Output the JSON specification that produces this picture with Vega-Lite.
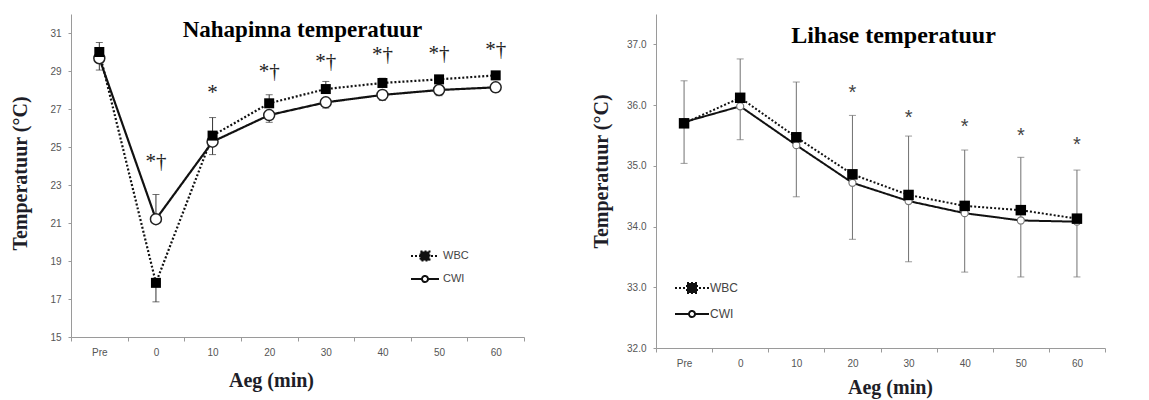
{
  "$schema": "https://vega.github.io/schema/vega-lite/v6.json",
  "background": "white",
  "padding": {"left": 10, "top": 14, "right": 5, "bottom": 5},
  "spacing": 66,
  "resolve": {"scale": {"strokeDash": "independent"}, "legend": {"strokeDash": "independent"}},
  "config": {
    "view": {"stroke": null},
    "axis": {
      "grid": false,
      "domainColor": "#9a9a9a",
      "tickColor": "#9a9a9a",
      "labelColor": "#555555",
      "labelFont": "Liberation Sans",
      "labelFontSize": 10,
      "titleFont": "Liberation Serif",
      "titleFontSize": 20,
      "titleFontWeight": "bold",
      "titleColor": "#1e1e28"
    },
    "legend": {
      "labelFont": "Liberation Sans",
      "labelFontSize": 11,
      "labelColor": "#444444"
    }
  },
  "datasets": {
    "skin": [
      {"time": "Pre", "series": "WBC", "temp": 30.0, "err": 30.5},
      {"time": "0", "series": "WBC", "temp": 17.85, "err": 16.85},
      {"time": "10", "series": "WBC", "temp": 25.6, "err": 26.55},
      {"time": "20", "series": "WBC", "temp": 27.3, "err": 27.75},
      {"time": "30", "series": "WBC", "temp": 28.05, "err": 28.45},
      {"time": "40", "series": "WBC", "temp": 28.37, "err": 28.62},
      {"time": "50", "series": "WBC", "temp": 28.56, "err": 28.75},
      {"time": "60", "series": "WBC", "temp": 28.77, "err": 28.97},
      {"time": "Pre", "series": "CWI", "temp": 29.67, "err": 29.05},
      {"time": "0", "series": "CWI", "temp": 21.2, "err": 22.5},
      {"time": "10", "series": "CWI", "temp": 25.28, "err": 24.6},
      {"time": "20", "series": "CWI", "temp": 26.68, "err": 26.3},
      {"time": "30", "series": "CWI", "temp": 27.35, "err": 27.05},
      {"time": "40", "series": "CWI", "temp": 27.74, "err": 27.45},
      {"time": "50", "series": "CWI", "temp": 28.0, "err": 27.7},
      {"time": "60", "series": "CWI", "temp": 28.14, "err": 27.9}
    ],
    "skinSig": [
      {"time": "0", "mark": "*†", "pos": 24.2},
      {"time": "10", "mark": "*", "pos": 27.84},
      {"time": "20", "mark": "*†", "pos": 28.95},
      {"time": "30", "mark": "*†", "pos": 29.47},
      {"time": "40", "mark": "*†", "pos": 29.82},
      {"time": "50", "mark": "*†", "pos": 29.9},
      {"time": "60", "mark": "*†", "pos": 30.1}
    ],
    "muscle": [
      {"time": "Pre", "series": "WBC", "temp": 35.7, "lo": 35.04, "hi": 36.4},
      {"time": "0", "series": "WBC", "temp": 36.12, "lo": 35.43, "hi": 36.76},
      {"time": "10", "series": "WBC", "temp": 35.47, "lo": 34.49, "hi": 36.38},
      {"time": "20", "series": "WBC", "temp": 34.86, "lo": 33.79, "hi": 35.83},
      {"time": "30", "series": "WBC", "temp": 34.52, "lo": 33.42, "hi": 35.49},
      {"time": "40", "series": "WBC", "temp": 34.34, "lo": 33.25, "hi": 35.26},
      {"time": "50", "series": "WBC", "temp": 34.27, "lo": 33.17, "hi": 35.14},
      {"time": "60", "series": "WBC", "temp": 34.13, "lo": 33.17, "hi": 34.93},
      {"time": "Pre", "series": "CWI", "temp": 35.72},
      {"time": "0", "series": "CWI", "temp": 35.98},
      {"time": "10", "series": "CWI", "temp": 35.34},
      {"time": "20", "series": "CWI", "temp": 34.72},
      {"time": "30", "series": "CWI", "temp": 34.42},
      {"time": "40", "series": "CWI", "temp": 34.22},
      {"time": "50", "series": "CWI", "temp": 34.1},
      {"time": "60", "series": "CWI", "temp": 34.08}
    ],
    "muscleSig": [
      {"time": "20", "mark": "*", "pos": 36.27},
      {"time": "30", "mark": "*", "pos": 35.86},
      {"time": "40", "mark": "*", "pos": 35.7},
      {"time": "50", "mark": "*", "pos": 35.56},
      {"time": "60", "mark": "*", "pos": 35.41}
    ]
  },
  "hconcat": [
    {
      "width": 453,
      "height": 323,
      "title": {
        "text": "Nahapinna temperatuur",
        "font": "Liberation Serif",
        "fontSize": 23,
        "fontWeight": "bold",
        "color": "#000000",
        "offset": -26,
        "baseline": "alphabetic",
        "dx": 5,
        "dy": 20
      },
      "data": {"name": "skin"},
      "encoding": {
        "x": {
          "field": "time",
          "type": "ordinal",
          "sort": ["Pre", "0", "10", "20", "30", "40", "50", "60"],
          "scale": {"type": "band", "paddingInner": 0, "paddingOuter": 0},
          "axis": {
            "title": "Aeg (min)",
            "labelAngle": 0,
            "tickBand": "extent",
            "tickSize": 4,
            "labelPadding": 6,
            "titleX": 200,
            "titleY": 43,
            "titleBaseline": "middle"
          }
        }
      },
      "layer": [
        {
          "mark": {"type": "rule", "color": "#333333", "strokeWidth": 1},
          "encoding": {
            "y": {"field": "temp", "type": "quantitative"},
            "y2": {"field": "err"}
          }
        },
        {
          "mark": {"type": "tick", "color": "#333333", "size": 7, "thickness": 1},
          "encoding": {
            "y": {"field": "err", "type": "quantitative"}
          }
        },
        {
          "mark": {"type": "line", "color": "#111111", "strokeWidth": 2.2},
          "encoding": {
            "y": {
              "field": "temp",
              "type": "quantitative",
              "scale": {"domain": [15, 32], "nice": false, "zero": false},
              "axis": {
                "title": "Temperatuur (°C)",
                "values": [15, 17, 19, 21, 23, 25, 27, 29, 31],
                "tickSize": 3,
                "labelPadding": 7,
                "titleAngle": -90,
                "titleX": -51,
                "titleY": 159,
                "titleAlign": "center",
                "titleBaseline": "middle"
              }
            },
            "strokeDash": {
              "field": "series",
              "type": "nominal",
              "scale": {"domain": ["WBC", "CWI"], "range": [[2, 2], [1, 0]]},
              "legend": {
                "title": null,
                "orient": "none",
                "legendX": 348,
                "legendY": 236,
                "symbolSize": 100,
                "symbolStrokeWidth": 2,
                "symbolStrokeColor": "#111111",
                "labelOffset": 12,
                "rowPadding": 7,
                "encode": {
                  "symbols": {
                    "update": {
                      "shape": {"signal": "datum.value === 'WBC' ? 'M-2.8,0H2.8M-0.9,-0.9H0.9V0.9H-0.9Z' : 'M-2.8,0H-0.6M0.6,0H2.8M-0.6,0A0.6,0.6 0 1,1 0.6,0A0.6,0.6 0 1,1 -0.6,0Z'"},
                      "fill": {"signal": "datum.value === 'WBC' ? '#111111' : '#ffffff'"},
                      "stroke": {"value": "#111111"},
                      "strokeWidth": {"value": 2},
                      "strokeOpacity": {"value": 1},
                      "fillOpacity": {"value": 1},
                      "opacity": {"value": 1},
                      "strokeDash": {"signal": "datum.value === 'WBC' ? [2, 2] : [1, 0]"}
                    }
                  }
                }
              }
            }
          }
        },
        {
          "transform": [{"filter": "datum.series === 'CWI'"}],
          "mark": {"type": "point", "shape": "circle", "filled": false, "fill": "#ffffff", "fillOpacity": 1, "stroke": "#222222", "strokeWidth": 1.5, "size": 120, "opacity": 1},
          "encoding": {"y": {"field": "temp", "type": "quantitative"}}
        },
        {
          "transform": [{"filter": "datum.series === 'WBC'"}],
          "mark": {"type": "point", "shape": "square", "filled": true, "color": "#000000", "size": 100, "opacity": 1},
          "encoding": {"y": {"field": "temp", "type": "quantitative"}}
        },
        {
          "data": {"name": "skinSig"},
          "mark": {"type": "text", "font": "Liberation Serif", "fontSize": 21, "color": "#222222", "baseline": "middle"},
          "encoding": {
            "y": {"field": "pos", "type": "quantitative"},
            "text": {"field": "mark"}
          }
        }
      ]
    },
    {
      "width": 449,
      "height": 334,
      "title": {
        "text": "Lihase temperatuur",
        "font": "Liberation Serif",
        "fontSize": 24,
        "fontWeight": "bold",
        "color": "#000000",
        "offset": -29,
        "baseline": "alphabetic",
        "dx": 13,
        "dy": 24
      },
      "data": {"name": "muscle"},
      "encoding": {
        "x": {
          "field": "time",
          "type": "ordinal",
          "sort": ["Pre", "0", "10", "20", "30", "40", "50", "60"],
          "scale": {"type": "band", "paddingInner": 0, "paddingOuter": 0},
          "axis": {
            "title": "Aeg (min)",
            "labelAngle": 0,
            "tickBand": "extent",
            "tickSize": 4,
            "labelPadding": 6,
            "titleX": 234,
            "titleY": 39,
            "titleBaseline": "middle"
          }
        }
      },
      "layer": [
        {
          "transform": [{"filter": "isValid(datum.lo)"}],
          "mark": {"type": "rule", "color": "#707070", "strokeWidth": 1},
          "encoding": {
            "y": {"field": "lo", "type": "quantitative"},
            "y2": {"field": "hi"}
          }
        },
        {
          "transform": [{"filter": "isValid(datum.lo)"}],
          "mark": {"type": "tick", "color": "#707070", "size": 7, "thickness": 1},
          "encoding": {"y": {"field": "lo", "type": "quantitative"}}
        },
        {
          "transform": [{"filter": "isValid(datum.hi)"}],
          "mark": {"type": "tick", "color": "#707070", "size": 7, "thickness": 1},
          "encoding": {"y": {"field": "hi", "type": "quantitative"}}
        },
        {
          "mark": {"type": "line", "color": "#111111", "strokeWidth": 2},
          "encoding": {
            "y": {
              "field": "temp",
              "type": "quantitative",
              "scale": {"domain": [32, 37.5], "nice": false, "zero": false},
              "axis": {
                "title": "Temperatuur (°C)",
                "values": [32, 33, 34, 35, 36, 37],
                "format": ".1f",
                "tickSize": 3,
                "labelPadding": 7,
                "titleAngle": -90,
                "titleX": -55,
                "titleY": 157,
                "titleAlign": "center",
                "titleBaseline": "middle"
              }
            },
            "strokeDash": {
              "field": "series",
              "type": "nominal",
              "scale": {"domain": ["WBC", "CWI"], "range": [[2, 2], [1, 0]]},
              "legend": {
                "title": null,
                "orient": "none",
                "legendX": 30,
                "legendY": 268,
                "symbolSize": 100,
                "symbolStrokeWidth": 2,
                "symbolStrokeColor": "#111111",
                "labelOffset": 12,
                "rowPadding": 10,
                "labelFontSize": 12,
                "encode": {
                  "symbols": {
                    "update": {
                      "shape": {"signal": "datum.value === 'WBC' ? 'M-3.4,0H3.4M-1,-1H1V1H-1Z' : 'M-3.4,0H-0.6M0.6,0H3.4M-0.6,0A0.6,0.6 0 1,1 0.6,0A0.6,0.6 0 1,1 -0.6,0Z'"},
                      "fill": {"signal": "datum.value === 'WBC' ? '#111111' : '#ffffff'"},
                      "stroke": {"value": "#111111"},
                      "strokeWidth": {"value": 2},
                      "strokeOpacity": {"value": 1},
                      "fillOpacity": {"value": 1},
                      "opacity": {"value": 1},
                      "strokeDash": {"signal": "datum.value === 'WBC' ? [2, 2] : [1, 0]"}
                    }
                  }
                }
              }
            }
          }
        },
        {
          "transform": [{"filter": "datum.series === 'CWI'"}],
          "mark": {"type": "point", "shape": "circle", "filled": false, "fill": "#ffffff", "fillOpacity": 1, "stroke": "#777777", "strokeWidth": 1.2, "size": 50, "opacity": 1},
          "encoding": {"y": {"field": "temp", "type": "quantitative"}}
        },
        {
          "transform": [{"filter": "datum.series === 'WBC'"}],
          "mark": {"type": "point", "shape": "square", "filled": true, "color": "#000000", "size": 110, "opacity": 1},
          "encoding": {"y": {"field": "temp", "type": "quantitative"}}
        },
        {
          "data": {"name": "muscleSig"},
          "mark": {"type": "text", "font": "Liberation Sans", "fontSize": 20, "color": "#444444", "baseline": "middle", "dy": 4},
          "encoding": {
            "y": {"field": "pos", "type": "quantitative"},
            "text": {"field": "mark"}
          }
        }
      ]
    }
  ]
}
